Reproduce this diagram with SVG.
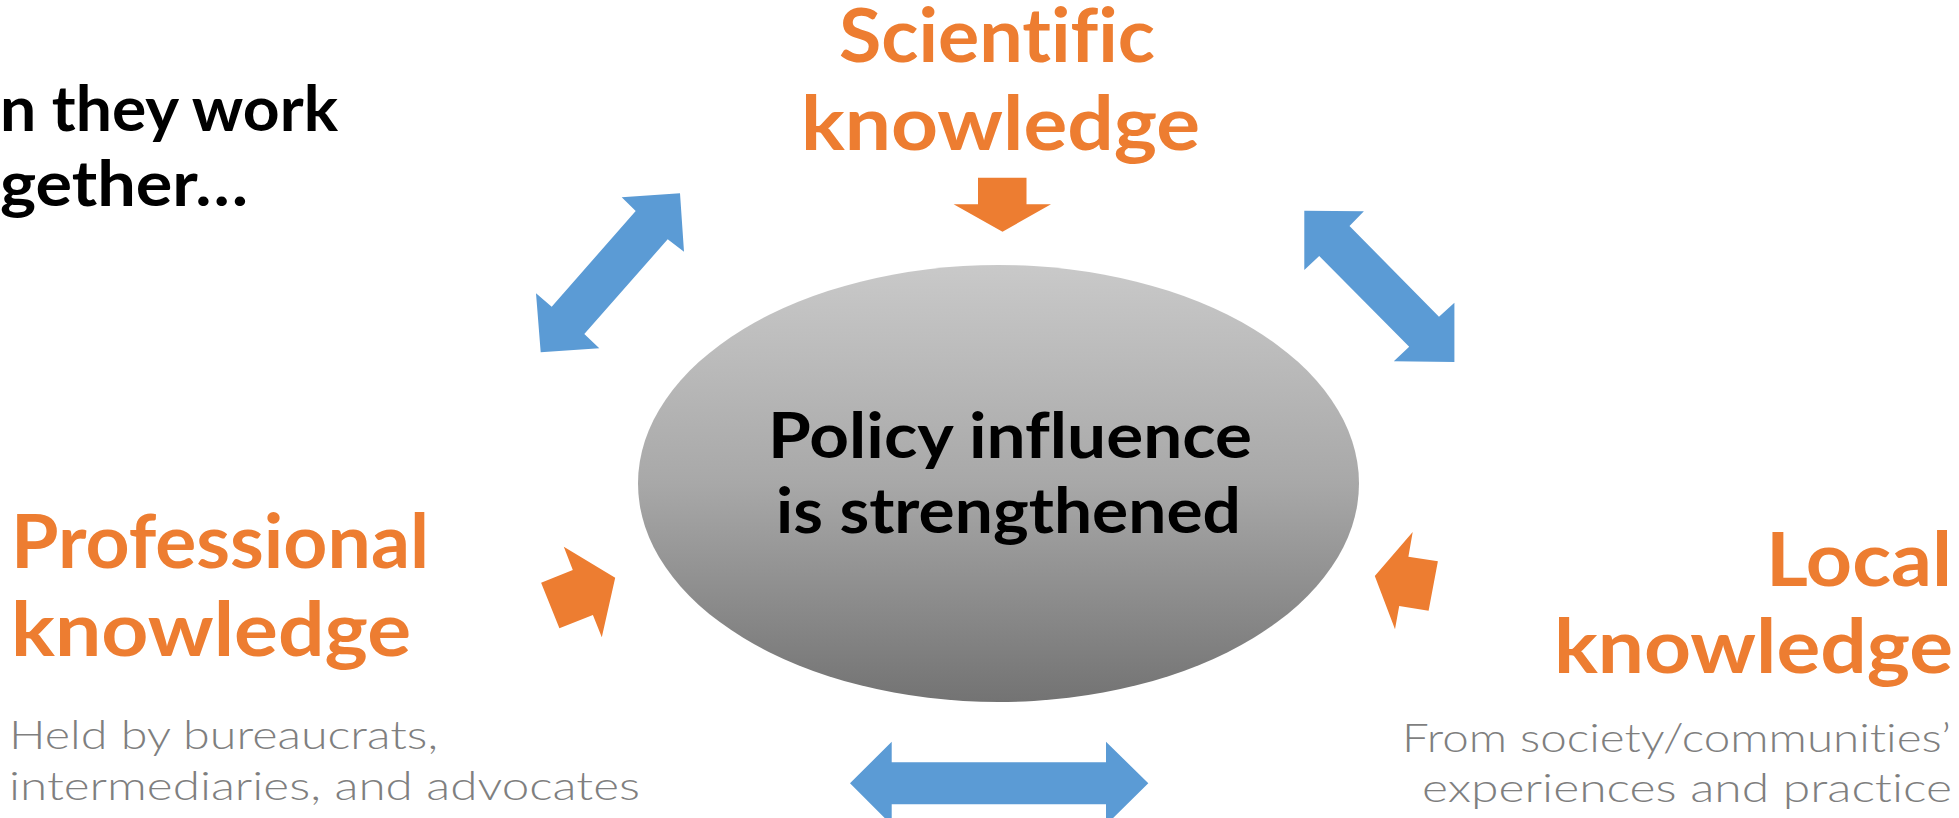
<svg xmlns="http://www.w3.org/2000/svg" width="1959" height="818" viewBox="0 0 1959 818">
  <defs>
    <linearGradient id="ellGrad" x1="0" y1="0" x2="0" y2="1">
      <stop offset="0" stop-color="#c9c9c9"/>
      <stop offset="0.5" stop-color="#a8a8a8"/>
      <stop offset="1" stop-color="#737373"/>
    </linearGradient>
  </defs>
  <style>
    .t { font-family: "Century Gothic", "Lato", "Liberation Sans", sans-serif; font-variant-ligatures: none; font-feature-settings: "liga" 0; }
    .head { font-weight: bold; font-size: 75px; fill: #ED7D31; }
    .sub { font-weight: 300; font-size: 40px; fill: #7F7F7F; }
    .blk { font-weight: bold; font-size: 63px; fill: #000000; }
    .blue { fill: #5B9BD5; }
    .orange { fill: #ED7D31; }
  </style>
  <rect width="1959" height="818" fill="#ffffff"/>

  <g id="intro">
    <text class="t blk" x="0" y="131" textLength="338" lengthAdjust="spacingAndGlyphs">n they work</text>
    <text class="t blk" x="0" y="206" textLength="248" lengthAdjust="spacingAndGlyphs">gether…</text>
  </g>

  <g id="policy">
    <ellipse cx="998.5" cy="483.5" rx="360.5" ry="218.5" fill="url(#ellGrad)"/>
    <text class="t blk" x="768" y="458" textLength="484" lengthAdjust="spacingAndGlyphs">Policy influence</text>
    <text class="t blk" x="776" y="533" textLength="465" lengthAdjust="spacingAndGlyphs">is strengthened</text>
  </g>

  <g id="scientific">
    <text class="t head" x="839" y="62" textLength="316" lengthAdjust="spacingAndGlyphs">Scientific</text>
    <text class="t head" x="801" y="150" textLength="399" lengthAdjust="spacingAndGlyphs">knowledge</text>
  </g>

  <g id="professional">
    <text class="t head" x="11" y="568" textLength="418" lengthAdjust="spacingAndGlyphs">Professional</text>
    <text class="t head" x="11" y="656" textLength="400" lengthAdjust="spacingAndGlyphs">knowledge</text>
    <text class="t sub" x="9" y="749" textLength="429" lengthAdjust="spacingAndGlyphs">Held by bureaucrats,</text>
    <text class="t sub" x="9" y="800" textLength="631" lengthAdjust="spacingAndGlyphs">intermediaries, and advocates</text>
  </g>

  <g id="local">
    <text class="t head" x="1766" y="586" textLength="186" lengthAdjust="spacingAndGlyphs">Local</text>
    <text class="t head" x="1554" y="673" textLength="399" lengthAdjust="spacingAndGlyphs">knowledge</text>
    <text class="t sub" x="1402" y="752" textLength="549" lengthAdjust="spacingAndGlyphs">From society/communities’</text>
    <text class="t sub" x="1422" y="802" textLength="530" lengthAdjust="spacingAndGlyphs">experiences and practice</text>
  </g>

  <g id="connectors">
    <polygon class="orange" points="978,177.7 1026.5,177.7 1026.5,204.3 1051,204.3 1002.5,231.7 953.6,204.3 978,204.3"/>
    <polygon class="orange" points="563.8,546.7 615.2,577.7 601.8,637.3 592.9,615 559.4,628.3 541.1,582.7 572.8,570"/>
    <polygon class="orange" points="1374.8,576 1412.7,532 1408.4,556.7 1437.9,561.3 1428.6,610.7 1399.2,606 1395,629.3"/>
    <polygon class="blue" points="621.7,197.3 680,193.3 684,251.7 667.7,239.3 584.3,334 599.3,348.3 540.7,352.3 536,293.3 551.7,306.7 635.7,211"/>
    <polygon class="blue" points="1304.3,210.7 1363.9,211.3 1349.5,226 1439,316.7 1454.4,302.7 1454.4,362 1393.8,361.3 1409.2,346.7 1319.2,256 1304.3,270"/>
    <polygon class="blue" points="850,783.3 891.7,741.7 891.7,762.3 1106,762.3 1106,741.7 1148.3,783.3 1106,825 1106,804.3 891.7,804.3 891.7,825"/>
  </g>
</svg>
